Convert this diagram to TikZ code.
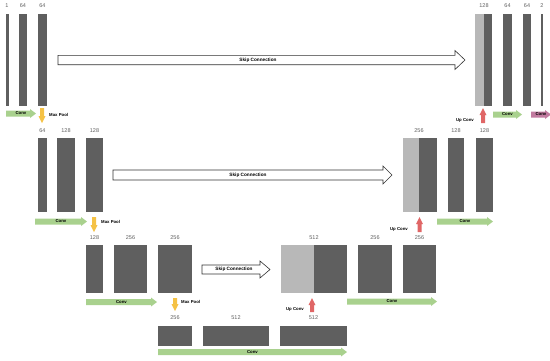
\documentclass[tikz,border=0pt]{standalone}
\usepackage{fontspec}
\setmainfont{Liberation Sans}
\definecolor{barDark}{HTML}{5F5F5F}
\definecolor{barLight}{HTML}{B8B8B8}
\definecolor{numGray}{HTML}{606060}
\definecolor{convGreen}{HTML}{A9D18E}
\definecolor{poolYellow}{HTML}{F5C245}
\definecolor{upRed}{HTML}{E06666}
\definecolor{outPink}{HTML}{C27BA0}
% horizontal block arrow: name, x1, x2, y, bodyhalf, headhalf, headlen, path style, text
\newcommand\harrowshape[9]{%
  \path[#8] (#2,{#4-#5}) -- ({#3-#7},{#4-#5}) -- ({#3-#7},{#4-#6}) -- (#3,#4)
    -- ({#3-#7},{#4+#6}) -- ({#3-#7},{#4+#5}) -- (#2,{#4+#5}) -- cycle;
  \node[albl] (#1) at ({(#2+#3)/2},#4) {#9};}
% vertical block arrow: name, x, y1 (tail), y2 (tip), bodyhalf, headhalf, signed headlen, style
\newcommand\varrowshape[8]{%
  \path[#8] ({#2-#5},#3) -- ({#2-#5},{#4-#7}) -- ({#2-#6},{#4-#7}) -- (#2,#4)
    -- ({#2+#6},{#4-#7}) -- ({#2+#5},{#4-#7}) -- ({#2+#5},#3) -- cycle;
  \coordinate (#1) at (#2,{(#3+#4)/2});}
\begin{document}
\begin{tikzpicture}[x=1pt,y=-1pt,
  bar/.style={fill=barDark, draw=none, inner sep=0pt, outer sep=0pt, anchor=north west},
  lightbar/.style={fill=barLight, draw=none, inner sep=0pt, outer sep=0pt, anchor=north west},
  num/.style={font=\fontsize{5.5}{6}\selectfont, text=numGray, inner sep=0pt},
  albl/.style={font=\fontsize{4.3}{4.8}\selectfont\bfseries, inner sep=0pt},
  slbl/.style={font=\fontsize{4.7}{5}\selectfont\bfseries, inner sep=0pt},
  conv/.style={fill=convGreen},
  pool/.style={fill=poolYellow},
  upc/.style={fill=upRed},
  outc/.style={fill=outPink},
  skip/.style={fill=white, draw=black!80, line width=0.6pt, line join=miter}]
\useasboundingbox (0,0) rectangle (550,360);

% ---------- Row 1 ----------
\node[bar, minimum width=2.5pt, minimum height=92pt] (a1) at (6,14) {};
\node[bar, minimum width=8pt, minimum height=92pt] (a2) at (19,14) {};
\node[bar, minimum width=9pt, minimum height=92pt] (a3) at (38,14) {};
\node[num] (la1) at (7,6) {1};
\node[num] (la2) at (23,6) {64};
\node[num] (la3) at (42.5,6) {64};

\node[lightbar, minimum width=9pt, minimum height=92pt] (a4l) at (475,14) {};
\node[bar, minimum width=8pt, minimum height=92pt] (a4) at (484,14) {};
\node[bar, minimum width=9pt, minimum height=92pt] (a5) at (503,14) {};
\node[bar, minimum width=8pt, minimum height=92pt] (a6) at (523,14) {};
\node[bar, minimum width=2pt, minimum height=92pt] (a7) at (541,14) {};
\node[num] (la4) at (484,6) {128};
\node[num] (la5) at (507.5,6) {64};
\node[num] (la6) at (527,6) {64};
\node[num] (la7) at (542,6) {2};

\harrowshape{c1}{6}{36}{113.5}{3}{4.5}{6}{conv}{Conv}
\harrowshape{c1r}{493}{522}{114.5}{3}{4.5}{6}{conv}{Conv}
\harrowshape{c1o}{531}{551}{114.5}{3}{4.5}{6}{outc}{Conv}
\varrowshape{p1}{42}{108}{123}{2}{3.5}{7}{pool}
\node[albl, anchor=west] (p1t) at (49,114.5) {Max Pool};
\varrowshape{u1}{483}{123}{108}{2}{3.5}{-7}{upc}
\node[albl, anchor=east] (u1t) at (474,120) {Up Conv};
\harrowshape{s1}{58}{465}{60}{4.7}{9.5}{10}{skip}{}
\node[slbl] (s1t) at (258,60) {Skip Connection};

% ---------- Row 2 ----------
\node[bar, minimum width=9pt, minimum height=74pt] (b1) at (38,138) {};
\node[bar, minimum width=18pt, minimum height=74pt] (b2) at (57,138) {};
\node[bar, minimum width=17pt, minimum height=74pt] (b3) at (86,138) {};
\node[num] (lb1) at (42.5,131) {64};
\node[num] (lb2) at (66,131) {128};
\node[num] (lb3) at (94.5,131) {128};

\node[lightbar, minimum width=16pt, minimum height=74pt] (b4l) at (403,138) {};
\node[bar, minimum width=18pt, minimum height=74pt] (b4) at (419,138) {};
\node[bar, minimum width=16pt, minimum height=74pt] (b5) at (448,138) {};
\node[bar, minimum width=17pt, minimum height=74pt] (b6) at (476,138) {};
\node[num] (lb4) at (419,131) {256};
\node[num] (lb5) at (456,131) {128};
\node[num] (lb6) at (484.5,131) {128};

\harrowshape{c2}{35}{87}{221.5}{3}{4.5}{6}{conv}{Conv}
\harrowshape{c2r}{437}{493}{221.5}{3}{4.5}{6}{conv}{Conv}
\varrowshape{p2}{94}{217}{232}{2}{3.5}{7}{pool}
\node[albl, anchor=west] (p2t) at (101,222) {Max Pool};
\varrowshape{u2}{419.5}{232}{217}{2}{3.5}{-7}{upc}
\node[albl, anchor=east] (u2t) at (408,229) {Up Conv};
\harrowshape{s2}{113}{392}{175}{5}{9}{9}{skip}{}
\node[slbl] (s2t) at (248,175) {Skip Connection};

% ---------- Row 3 ----------
\node[bar, minimum width=17pt, minimum height=48pt] (d1) at (86,245) {};
\node[bar, minimum width=33pt, minimum height=48pt] (d2) at (114,245) {};
\node[bar, minimum width=34pt, minimum height=48pt] (d3) at (158,245) {};
\node[num] (ld1) at (94.5,238) {128};
\node[num] (ld2) at (130.5,238) {256};
\node[num] (ld3) at (175,238) {256};

\node[lightbar, minimum width=33pt, minimum height=48pt] (d4l) at (281,245) {};
\node[bar, minimum width=33pt, minimum height=48pt] (d4) at (314,245) {};
\node[bar, minimum width=34pt, minimum height=48pt] (d5) at (358,245) {};
\node[bar, minimum width=33pt, minimum height=48pt] (d6) at (403,245) {};
\node[num] (ld4) at (314,238) {512};
\node[num] (ld5) at (375,238) {256};
\node[num] (ld6) at (419.5,238) {256};

\harrowshape{c3}{86}{157}{302}{3}{4.5}{6}{conv}{Conv}
\harrowshape{c3r}{347}{437}{301.5}{3}{4.5}{6}{conv}{Conv}
\varrowshape{p3}{175}{298}{311}{2}{3.5}{7}{pool}
\node[albl, anchor=west] (p3t) at (181,302) {Max Pool};
\varrowshape{u3}{312}{312}{298}{2}{3.5}{-7}{upc}
\node[albl, anchor=east] (u3t) at (304,309) {Up Conv};
\harrowshape{s3}{202}{270}{269.5}{4.5}{8.5}{10}{skip}{}
\node[slbl] (s3t) at (234,269.5) {Skip Connection};

% ---------- Row 4 (bottleneck) ----------
\node[bar, minimum width=34pt, minimum height=20pt] (e1) at (158,326) {};
\node[bar, minimum width=66pt, minimum height=20pt] (e2) at (203,326) {};
\node[bar, minimum width=67pt, minimum height=20pt] (e3) at (280,326) {};
\node[num] (le1) at (175,318) {256};
\node[num] (le2) at (236,318) {512};
\node[num] (le3) at (313.5,318) {512};

\harrowshape{c4}{158}{347}{352}{3}{4.5}{6}{conv}{Conv}
\end{tikzpicture}
\end{document}
